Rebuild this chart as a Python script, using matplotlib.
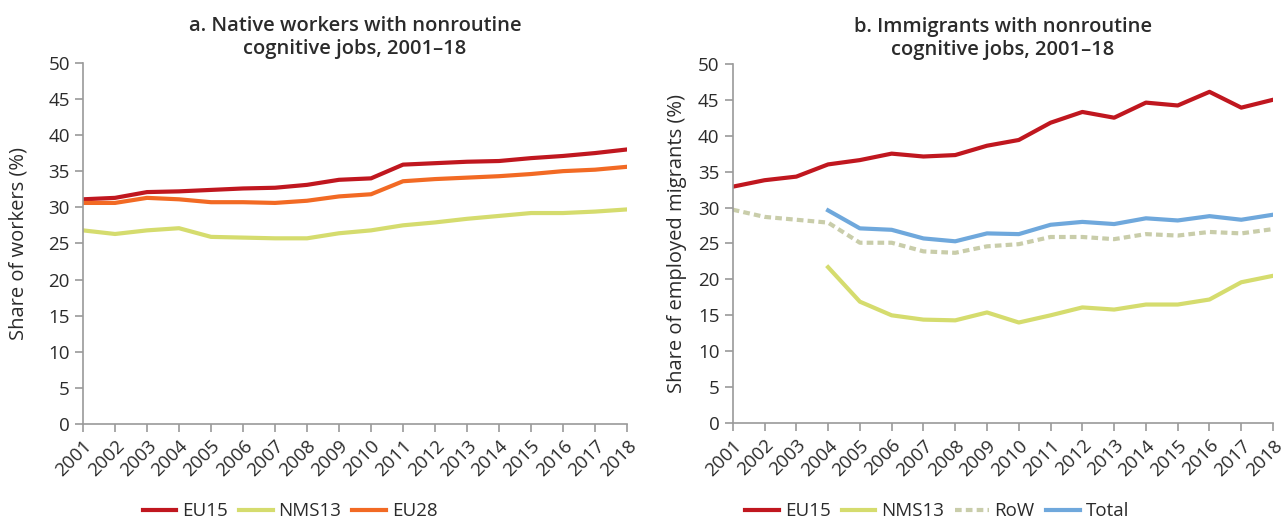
import numpy as np
import matplotlib
matplotlib.use("Agg")
import matplotlib.pyplot as plt

plt.rcParams['font.family'] = ['Open Sans', 'DejaVu Sans']

years = list(range(2001, 2019))

# panel a: native workers
nat_eu15 = [31.1, 31.3, 32.1, 32.2, 32.4, 32.6, 32.7, 33.1, 33.8, 34.0,
            35.9, 36.1, 36.3, 36.4, 36.8, 37.1, 37.5, 38.0]
nat_nms13 = [26.8, 26.3, 26.8, 27.1, 25.9, 25.8, 25.7, 25.7, 26.4, 26.8,
             27.5, 27.9, 28.4, 28.8, 29.2, 29.2, 29.4, 29.7]
nat_eu28 = [30.6, 30.6, 31.3, 31.1, 30.7, 30.7, 30.6, 30.9, 31.5, 31.8,
            33.6, 33.9, 34.1, 34.3, 34.6, 35.0, 35.2, 35.6]

# panel b: immigrants (NMS13 and Total start in 2004)
imm_eu15 = [32.9, 33.8, 34.3, 36.0, 36.6, 37.5, 37.1, 37.3, 38.6, 39.4,
            41.8, 43.3, 42.5, 44.6, 44.2, 46.1, 43.9, 45.0]
imm_nms13 = [None, None, None, 21.7, 16.9, 15.0, 14.4, 14.3, 15.4, 14.0,
             15.0, 16.1, 15.8, 16.5, 16.5, 17.2, 19.6, 20.5]
imm_row = [29.7, 28.7, 28.3, 27.9, 25.1, 25.1, 23.9, 23.7, 24.6, 24.9,
           25.9, 25.9, 25.6, 26.3, 26.1, 26.6, 26.4, 27.0]
imm_total = [None, None, None, 29.6, 27.1, 26.9, 25.7, 25.3, 26.4, 26.3,
             27.6, 28.0, 27.7, 28.5, 28.2, 28.8, 28.3, 29.0]

red = '#c0171f'
lime = '#d5dc6e'
orange = '#f26a24'
grey = '#c9cdaa'
blue = '#6fa8dc'
axcol = '#9a9a9a'
txt = '#2b2b2b'


def to_arr(v):
    return np.array([np.nan if a is None else a for a in v], dtype=float)


def style_axes(ax, ylabel, title, pad):
    ax.set_xlim(2001, 2018)
    ax.set_ylim(0, 50)
    ax.set_yticks(range(0, 51, 5))
    ax.set_xticks(years)
    ax.set_xticklabels([str(y) for y in years], rotation=45, ha='right',
                       rotation_mode='anchor')
    for s in ['top', 'right']:
        ax.spines[s].set_visible(False)
    for s in ['left', 'bottom']:
        ax.spines[s].set_color(axcol)
        ax.spines[s].set_linewidth(1.2)
    ax.tick_params(colors=axcol, labelcolor=txt, labelsize=13.5, length=6,
                   width=1.2)
    ax.set_ylabel(ylabel, fontsize=14.5, color=txt, labelpad=pad)
    ax.set_title(title, fontsize=14.5, fontweight='semibold', color=txt,
                 pad=6, linespacing=1.25)


def add_legend(ax, ncol, xc):
    # legend placed in figure coordinates so both panels line up
    ax.legend(loc='center', bbox_to_anchor=(xc, 0.022),
              bbox_transform=fig.transFigure, ncol=ncol,
              frameon=False, fontsize=13.5, handlelength=1.8,
              columnspacing=0.6, handletextpad=0.3, labelcolor=txt,
              borderpad=0.0)


fig = plt.figure(figsize=(12.81, 5.23), dpi=100)
ax1 = fig.add_axes([0.0648, 0.1893, 0.4247, 0.6907])
ax2 = fig.add_axes([0.572, 0.191, 0.4218, 0.687])

ax1.plot(years, nat_eu15, color=red, lw=3, label='EU15')
ax1.plot(years, nat_nms13, color=lime, lw=3, label='NMS13')
ax1.plot(years, nat_eu28, color=orange, lw=3, label='EU28')
style_axes(ax1, 'Share of workers (%)',
           'a. Native workers with nonroutine\ncognitive jobs, 2001\u201318', 14)
add_legend(ax1, 3, 0.2264)

ax2.plot(years, imm_eu15, color=red, lw=3, label='EU15')
ax2.plot(years, to_arr(imm_nms13), color=lime, lw=3, label='NMS13')
ax2.plot(years, imm_row, color=grey, lw=3, ls=(0, (1.6, 1.0)), label='RoW')
ax2.plot(years, to_arr(imm_total), color=blue, lw=3, label='Total')
style_axes(ax2, 'Share of employed migrants (%)',
           'b. Immigrants with nonroutine\ncognitive jobs, 2001\u201318', 8)
add_legend(ax2, 4, 0.7315)

fig.savefig('out.png', dpi=100)
